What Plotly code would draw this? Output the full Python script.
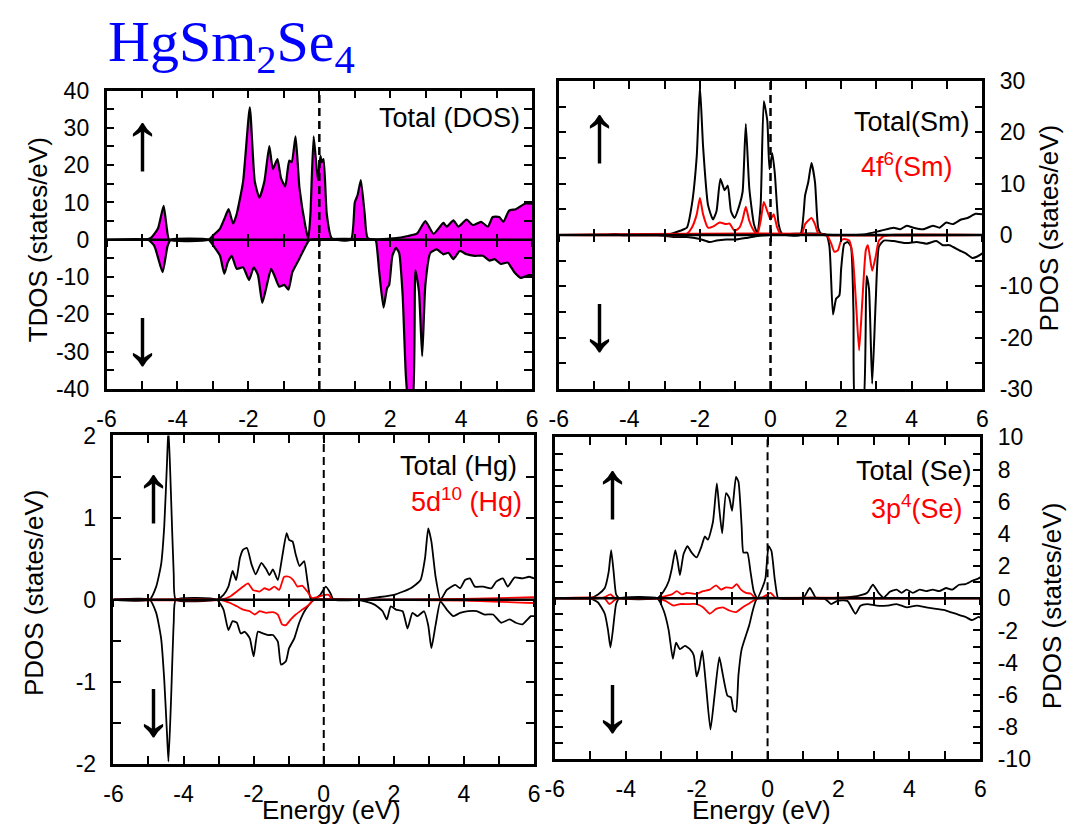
import plotly.graph_objects as go

W, H = 1075, 839

# ---------------- data (energy in eV, DOS in states/eV) ----------------
tdos_up_E = [-6, -4.95, -4.75, -4.55, -4.39, -4.3, -4.23, -3.12, -2.98, -2.8, -2.66, -2.56, -2.43, -2.33, -2.15,
             -1.96, -1.82, -1.69, -1.55, -1.41, -1.31, -1.18, -1.08, -0.96, -0.85, -0.78, -0.67, -0.56, -0.39,
             -0.31, -0.25, -0.16, -0.04, 0.03, 0.07, 0.12, 0.21, 0.35, 0.89, 1.0, 1.08, 1.17, 1.28, 1.37, 2.11,
             2.5, 2.76, 2.99, 3.22, 3.5, 3.59, 3.78, 3.92, 4.15, 4.33, 4.56, 4.75, 4.89, 5.07, 5.19, 5.35, 5.54,
             5.81, 6]
tdos_up = [0, 0, 0.5, 3, 9.1, 3, 0, 0, 1.3, 3, 6, 8.2, 4.3, 6.9, 15.6,
           35.5, 15.6, 11.3, 15.6, 25.1, 19, 21.6, 16.5, 14.3, 21.2, 20.8, 27.7, 13.9, 3.5,
           0.2, 6.9, 27.7, 16, 22.5, 20.8, 21.6, 6.9, 0.4, 0, 10, 12, 16, 6.9, 0.4, 0.4,
           1, 1.7, 5, 1.6, 4.5, 3.5, 5.2, 3.5, 5.4, 3.9, 4.8, 3.5, 6.1, 6.1, 4.8, 7.8, 8.2,
           9.7, 9.7]
tdos_dn_E = [-6, -4.83, -4.65, -4.42, -4.28, -4.19, -3.12, -2.98, -2.8, -2.68, -2.58, -2.47, -2.33, -2.15, -1.98,
             -1.85, -1.73, -1.61, -1.5, -1.36, -1.27, -1.13, -0.99, -0.87, -0.76, -0.57, -0.31, -0.25, 1.56,
             1.6, 1.69, 1.81, 1.91, 1.97, 2.06, 2.16, 2.25, 2.35, 2.44, 2.53, 2.62, 2.71, 2.81, 2.9, 2.99,
             3.13, 3.31, 3.5, 3.64, 3.78, 3.96, 4.15, 4.38, 4.61, 4.8, 4.94, 5.12, 5.31, 5.5, 5.68, 5.91, 6]
tdos_dn = [0, 0, -1.7, -8.7, -1.7, 0, 0, -1.7, -4.3, -9.1, -6, -4.3, -7.8, -7.4, -10.8,
           -7.4, -9.5, -16.9, -13, -7.8, -9.5, -12.6, -12.1, -13.4, -8.7, -5.2, -0.4, 0, 0,
           -0.4, -8.7, -18.2, -13, -12.1, -4.3, -2.2, -3.5, -15, -36.4, -45, -45, -8.2, -13.9, -31.2, -12.1,
           -3.5, -2.6, -3.9, -3.5, -5.2, -3, -3.9, -4.3, -4.3, -5.6, -5.2, -6.5, -6.1, -8.7, -10.2, -9.5, -9.5]

sm_up_E = [-6, -4.6, -4.42, -4.25, -2.93, -2.56, -2.37, -2.23, -2.09, -2.0, -1.91, -1.77, -1.63, -1.53, -1.42,
           -1.3, -1.21, -1.12, -1.02, -0.88, -0.79, -0.7, -0.6, -0.47, -0.37, -0.28, -0.19, -0.09, -0.03, 0.05,
           0.12, 0.23, 0.33, 0.84, 0.98, 1.07, 1.16, 1.26, 1.35, 1.44, 2.65, 3.12, 3.49, 3.67, 3.86, 4.05,
           4.33, 4.6, 4.79, 4.98, 5.16, 5.4, 5.58, 5.81, 6]
sm_up = [0, 0, 0.2, 0, 0, 0.8, 1.4, 5.8, 15.3, 29, 17.2, 5.8, 3, 4.6, 10.9,
         8.7, 9.6, 4.6, 3.3, 5.8, 8.4, 21.6, 9, 2.1, 0.3, 5.8, 26, 22.2, 12.8, 15.9,
         12.1, 2.1, 0.2, 0, 7.7, 10.3, 14, 10.3, 1.4, 0.2, 0.1, 0.8, 1.4, 1.1, 1.8, 1.4,
         1.1, 1.8, 1.4, 2.4, 2.1, 3, 3.3, 4.1, 4]
sm_dn_E = [-6, -3.2, -2.93, -2.74, -2.37, -2.0, -1.72, -1.53, -1.26, -0.98, -0.7, -0.42, 0, 1.58, 1.67, 1.77,
           1.86, 1.95, 2.0, 2.09, 2.19, 2.28, 2.35, 2.42, 2.6, 2.72, 2.79, 2.88, 2.98, 3.07, 3.21, 3.49,
           3.86, 4.14, 4.42, 4.7, 4.88, 5.07, 5.35, 5.53, 5.72, 5.86, 6]
sm_dn = [0, 0, -0.25, -0.4, -0.4, -0.8, -1.4, -1.1, -0.9, -0.9, -0.6, -0.25, 0, 0, -2.3, -15.5,
         -12.4, -11.8, -6.7, -1.7, -1.4, -2.3, -15, -35, -35, -8, -10.5, -29, -13, -2.3, -1.1, -1.2,
         -1.6, -1.4, -1.7, -1.2, -2, -2, -3, -3.6, -4.5, -4.2, -3.6]
sm4f_up_E = [-6, -2.5, -2.37, -2.23, -2.09, -2.0, -1.91, -1.77, -1.63, -1.44, -1.26, -1.16, -1.02, -0.88, -0.79,
             -0.7, -0.6, -0.47, -0.37, -0.28, -0.19, -0.09, 0, 0.09, 0.19, 0.28, 0.88, 0.98, 1.16, 1.26, 1.35,
             1.5, 6]
sm4f_up = [0, 0, 0.2, 1.4, 4, 7.2, 4, 1.4, 1.6, 2.4, 2.1, 2.2, 0.8, 1.4, 3,
           5.5, 2.7, 0.8, 0.2, 2.7, 6.4, 4.6, 3, 4, 1.4, 0.2, 0.2, 2.1, 3.3, 2.1, 0.3,
           0, 0]
sm4f_dn_E = [-6, 1.55, 1.63, 1.72, 1.81, 1.91, 2.0, 2.09, 2.23, 2.33, 2.42, 2.51, 2.6, 2.7, 2.76, 2.88, 2.98,
             3.07, 3.21, 3.4, 6]
sm4f_dn = [0, 0, -0.4, -1.7, -3.3, -3, -1.1, -0.8, -1.1, -4.2, -13, -22.5, -13, -3, -2, -7, -4.2,
           -1.1, -0.25, 0, 0]

hg_up_E = [-6, -4.97, -4.78, -4.64, -4.55, -4.47, -4.43, -4.36, -4.28, -4.22, -3.05, -2.86, -2.72, -2.6, -2.5,
           -2.39, -2.3, -2.19, -2.06, -1.94, -1.78, -1.64, -1.55, -1.45, -1.31, -1.19, -1.06, -0.99, -0.89,
           -0.8, -0.69, -0.56, -0.47, -0.38, -0.3, -0.1, 0.06, 0.19, 0.28, 0.98, 1.54, 2.01, 2.48, 2.76, 2.89,
           2.98, 3.07, 3.19, 3.33, 3.51, 3.75, 3.89, 4.03, 4.17, 4.31, 4.55, 4.78, 4.92, 5.11, 5.25, 5.44,
           5.67, 5.86, 6]
hg_up = [0, 0, 0.16, 0.43, 0.9, 1.69, 2.1, 1.3, 0.31, 0, 0, 0.06, 0.16, 0.35, 0.24,
         0.51, 0.61, 0.63, 0.43, 0.31, 0.45, 0.37, 0.3, 0.37, 0.24, 0.51, 0.81, 0.73, 0.71,
         0.55, 0.41, 0.47, 0.24, 0.02, 0, 0.06, 0.16, 0.08, 0, 0, 0.03, 0.06, 0.14, 0.24, 0.51,
         0.87, 0.71, 0.28, 0, 0.12, 0.18, 0.14, 0.24, 0.26, 0.16, 0.16, 0.14, 0.22, 0.26, 0.16, 0.27,
         0.26, 0.28, 0.26]
hg_dn_E = [-6, -4.97, -4.78, -4.64, -4.55, -4.47, -4.43, -4.36, -4.28, -4.22, -3.05, -2.86, -2.72, -2.6, -2.48,
           -2.37, -2.25, -2.11, -2.0, -1.88, -1.74, -1.59, -1.45, -1.31, -1.22, -1.08, -0.99, -0.84, -0.7,
           -0.52, -0.33, -0.25, 0.98, 1.45, 1.68, 1.8, 1.91, 2.06, 2.25, 2.39, 2.53, 2.67, 2.86, 2.98, 3.07,
           3.19, 3.33, 3.51, 3.7, 3.89, 4.12, 4.36, 4.59, 4.83, 5.06, 5.3, 5.48, 5.67, 5.91, 6]
hg_dn = [0, 0, -0.16, -0.47, -0.98, -1.65, -1.97, -1.26, -0.28, 0, 0, -0.12, -0.37, -0.26, -0.28,
         -0.41, -0.39, -0.47, -0.69, -0.39, -0.41, -0.43, -0.43, -0.51, -0.79, -0.75, -0.59, -0.47, -0.28,
         -0.12, -0.02, 0, 0, -0.06, -0.14, -0.24, -0.08, -0.12, -0.14, -0.35, -0.16, -0.2, -0.14, -0.31, -0.59,
         -0.31, -0.02, -0.12, -0.2, -0.16, -0.14, -0.14, -0.18, -0.18, -0.28, -0.24, -0.28, -0.3, -0.2, -0.2]
hg5d_up_E = [-6, -2.95, -2.67, -2.48, -2.3, -2.16, -2.02, -1.83, -1.69, -1.55, -1.41, -1.27, -1.13, -0.99, -0.87,
             -0.75, -0.61, -0.47, -0.33, -0.2, -0.05, 0.14, 0.25, 1.0, 4.0, 6]
hg5d_up = [0, 0, 0.04, 0.1, 0.16, 0.2, 0.12, 0.1, 0.14, 0.12, 0.16, 0.12, 0.28, 0.28, 0.24,
           0.16, 0.17, 0.1, 0.02, 0.03, 0.05, 0.06, 0, 0, 0.01, 0.03]
hg5d_dn_E = [-6, -2.95, -2.67, -2.48, -2.3, -2.11, -1.97, -1.83, -1.64, -1.45, -1.31, -1.19, -1.08, -0.94, -0.8,
             -0.61, -0.42, -0.3, 1.0, 4.0, 6]
hg5d_dn = [0, 0, -0.04, -0.08, -0.12, -0.14, -0.18, -0.14, -0.16, -0.15, -0.18, -0.3, -0.31, -0.24, -0.18,
           -0.12, -0.06, 0, 0, -0.01, -0.04]

se_up_E = [-6, -5.01, -4.78, -4.59, -4.48, -4.41, -4.34, -4.27, -4.18, -3.11, -2.93, -2.79, -2.7, -2.6, -2.53,
           -2.47, -2.37, -2.26, -2.14, -2.0, -1.86, -1.77, -1.68, -1.54, -1.43, -1.36, -1.28, -1.17, -1.08,
           -1.0, -0.89, -0.82, -0.73, -0.68, -0.57, -0.48, -0.39, -0.29, -0.15, -0.06, 0.03, 0.11, 0.2, 0.29,
           0.35, 1.0, 1.19, 1.28, 1.37, 1.97, 2.53, 2.81, 2.97, 3.13, 3.27, 3.45, 3.64, 3.78, 3.92, 4.1,
           4.29, 4.47, 4.66, 4.84, 5.03, 5.21, 5.4, 5.58, 5.77, 5.95, 6]
se_up = [0, 0, 0.24, 0.64, 1.64, 3.0, 1.64, 0.24, 0, 0, 0.44, 1.04, 1.84, 3.0, 2.24,
         1.44, 2.74, 3.24, 2.84, 2.54, 3.24, 3.84, 3.64, 4.74, 7.14, 5.54, 4.04, 6.54, 6.24,
         5.44, 7.54, 7.24, 4.44, 2.84, 2.84, 1.64, 0.44, 0, 0.64, 1.24, 3.24, 2.94, 1.24, 0.04,
         0, 0, 0.64, 0.34, 0, 0.04, 0.14, 0.34, 0.84, 0.34, 0.04, 0.4, 0.54, 0.34, 0.54, 0.34,
         0.54, 0.44, 0.54, 0.44, 0.64, 0.54, 0.84, 0.88, 1.08, 1.24, 1.3]
se_dn_E = [-6, -5.01, -4.78, -4.59, -4.5, -4.43, -4.36, -4.27, -4.18, -3.11, -2.93, -2.79, -2.67, -2.58, -2.47,
           -2.33, -2.19, -2.08, -2.0, -1.93, -1.84, -1.73, -1.61, -1.49, -1.36, -1.26, -1.13, -1.03, -0.96,
           -0.89, -0.82, -0.73, -0.52, -0.29, 0.4, 1.6, 1.79, 1.97, 2.25, 2.48, 2.62, 2.81, 3.08, 3.36, 3.64,
           3.92, 4.2, 4.47, 4.75, 5.03, 5.3, 5.58, 5.77, 5.95, 6]
se_dn = [0, 0, -0.26, -0.96, -1.96, -3.06, -1.96, -0.36, 0, 0, -0.76, -1.96, -3.76, -2.76, -3.16,
         -2.96, -3.16, -3.56, -4.86, -4.36, -3.26, -5.56, -8.16, -5.96, -3.66, -4.76, -6.06, -6.16, -6.96,
         -7.06, -4.76, -3.16, -1.7, 0, 0, 0, -0.36, -0.16, -0.16, -0.96, -0.46, -0.36, -0.46, -0.46, -0.36,
         -0.56, -0.46, -0.56, -0.66, -0.76, -0.96, -1.16, -1.36, -1.16, -1.2]
se3p_up_E = [-6, -4.78, -4.59, -4.43, -4.32, -4.2, -3.11, -2.88, -2.7, -2.56, -2.42, -2.28, -2.0, -1.82, -1.63,
             -1.45, -1.31, -1.17, -1.0, -0.87, -0.75, -0.61, -0.47, -0.33, -0.15, 0.08, 0.22, 0.3, 6]
se3p_up = [0, 0, 0.08, 0.24, 0.04, 0, 0, 0.14, 0.24, 0.44, 0.24, 0.34, 0.28, 0.44, 0.54,
           0.8, 0.54, 0.68, 0.64, 0.88, 0.54, 0.34, 0.28, 0, 0.04, 0.34, 0.04, 0, 0]
se3p_dn_E = [-6, -4.6, -4.46, -4.32, -4.2, -3.11, -2.88, -2.65, -2.47, -2.28, -2.0, -1.82, -1.63, -1.45, -1.26,
             -1.08, -0.89, -0.7, -0.52, -0.33, -0.25, 6]
se3p_dn = [0, 0, -0.36, -0.12, 0, 0, -0.16, -0.46, -0.36, -0.36, -0.36, -0.56, -0.96, -0.66, -0.56,
           -0.76, -0.86, -0.56, -0.32, -0.06, 0, 0]

# tick values / labels (plain hyphen-minus, as in the original)
x_ticks = [-6, -4, -2, 0, 2, 4, 6]
x_ticklabels = ["-6", "-4", "-2", "0", "2", "4", "6"]
y_ticks = {1: [-40, -30, -20, -10, 0, 10, 20, 30, 40],
           2: [-30, -20, -10, 0, 10, 20, 30],
           3: [-2, -1, 0, 1, 2],
           4: [-10, -8, -6, -4, -2, 0, 2, 4, 6, 8, 10]}
y_ticklabels = {k: [str(v) for v in vals] for k, vals in y_ticks.items()}
x_range = [-6, 6]
y_ranges = {1: [-40, 40], 2: [-30, 30], 3: [-2, 2], 4: [-10, 10]}
y_minor = {1: 5, 2: 5, 3: 0.5, 4: 1}

# ---------------- layout helpers ----------------
def dx(a, b):
    return [a / W, b / W]

def dy(top, bottom):
    return [1 - bottom / H, 1 - top / H]

px = lambda x: x / W
py = lambda y: 1 - y / H

boxes = {1: (98, 530, 80, 388), 2: (557, 987, 70, 388), 3: (105, 532, 436, 775), 4: (553, 985, 438, 770)}

TICKFONT = dict(family="Liberation Sans, Arial, sans-serif", size=23, color="black")
BLACK = "black"
RED = "#ff0000"
MAGENTA = "#ff00ff"

fig = go.Figure()

def add(panel, xs, ys, color, width=2.0, fill=False):
    sfx = "" if panel == 1 else str(panel)
    kw = dict(x=xs, y=ys, mode="lines", line=dict(color=color, width=width, shape="spline", smoothing=0.5),
              xaxis="x" + sfx, yaxis="y" + sfx, showlegend=False, hoverinfo="skip")
    if fill:
        kw.update(fill="tozeroy", fillcolor=MAGENTA)
    fig.add_trace(go.Scatter(**kw))

add(1, tdos_up_E, tdos_up, BLACK, 2.2, fill=True)
add(1, tdos_dn_E, tdos_dn, BLACK, 2.2, fill=True)
add(2, sm_up_E, sm_up, BLACK, 2.0)
add(2, sm_dn_E, sm_dn, BLACK, 2.0)
add(2, sm4f_up_E, sm4f_up, RED, 2.0)
add(2, sm4f_dn_E, sm4f_dn, RED, 2.0)
add(3, hg_up_E, hg_up, BLACK, 1.8)
add(3, hg_dn_E, hg_dn, BLACK, 1.8)
add(3, hg5d_up_E, hg5d_up, RED, 1.8)
add(3, hg5d_dn_E, hg5d_dn, RED, 1.8)
add(4, se_up_E, se_up, BLACK, 1.8)
add(4, se_dn_E, se_dn, BLACK, 1.8)
add(4, se3p_up_E, se3p_up, RED, 1.8)
add(4, se3p_dn_E, se3p_dn, RED, 1.8)

layout = dict(width=W, height=H, margin=dict(l=0, r=0, t=0, b=0),
              paper_bgcolor="white", plot_bgcolor="white", showlegend=False)

shapes = []
extra = 5
for p in (1, 2, 3, 4):
    x0, x1, top, bottom = boxes[p]
    sfx = "" if p == 1 else str(p)
    xd, yd = dx(x0, x1), dy(top, bottom)
    layout["xaxis" + sfx] = dict(
        domain=xd, anchor="y" + sfx, range=x_range, tickmode="array",
        tickvals=x_ticks, ticktext=x_ticklabels,
        ticks="inside", ticklen=8, tickwidth=2, tickcolor=BLACK,
        minor=dict(tickmode="linear", tick0=-6, dtick=1, ticks="inside", ticklen=8, tickwidth=2,
                   tickcolor=BLACK),
        showline=True, linecolor=BLACK, linewidth=2.5, mirror="allticks",
        showgrid=False, zeroline=False, tickfont=TICKFONT, ticklabelstandoff=8,
    )
    layout["yaxis" + sfx] = dict(
        domain=yd, anchor="x" + sfx, range=y_ranges[p], tickmode="array",
        tickvals=y_ticks[p], ticktext=y_ticklabels[p],
        ticks="inside", ticklen=8, tickwidth=2, tickcolor=BLACK,
        minor=dict(tickmode="linear", tick0=y_ranges[p][0], dtick=y_minor[p], ticks="inside", ticklen=8,
                   tickwidth=2, tickcolor=BLACK),
        showline=True, linecolor=BLACK, linewidth=2.5, mirror="allticks",
        side="left" if p in (1, 3) else "right",
        showgrid=False, zeroline=False, tickfont=TICKFONT, ticklabelstandoff=10,
    )
    # ticks crossing the zero line (two overlay axes, one each direction)
    r0, r1 = y_ranges[p]
    zpos = yd[0] + (0 - r0) / (r1 - r0) * (yd[1] - yd[0])
    for direction in ("inside", "outside"):
        name = "x%d" % extra
        layout["xaxis%d" % extra] = dict(
            overlaying="x" + sfx, anchor="free", position=zpos, range=x_range, tickmode="linear",
            dtick=1, tick0=-6, ticks=direction, ticklen=6, tickwidth=2, tickcolor=BLACK,
            showticklabels=False, showline=False, showgrid=False, zeroline=False,
        )
        fig.add_trace(go.Scatter(x=[], y=[], xaxis=name, yaxis="y" + sfx, mode="lines",
                                 showlegend=False, hoverinfo="skip"))
        extra += 1
    # zero line and Fermi level
    shapes.append(dict(type="line", xref="x" + sfx + " domain", x0=0, x1=1, yref="y" + sfx, y0=0, y1=0,
                       line=dict(color=BLACK, width=2.5), layer="above"))
    shapes.append(dict(type="line", xref="x" + sfx, x0=0, x1=0, yref="y" + sfx + " domain", y0=0, y1=1,
                       line=dict(color=BLACK, width=2.5 if p <= 2 else 2.0, dash="8px,5px"), layer="above"))

layout["shapes"] = shapes

LAB = dict(family="Liberation Sans, Arial, sans-serif", size=26, color="black")
ann = []
def text(x, y, s, font, xanchor="center", yanchor="middle", angle=0):
    ann.append(dict(x=px(x), y=py(y), xref="paper", yref="paper", text=s, showarrow=False,
                    xanchor=xanchor, yanchor=yanchor, textangle=angle, font=font))

# title
text(97, 34, "HgSm<sub>2</sub>Se<sub>4</sub>",
     dict(family="Liberation Serif, Times New Roman, serif", size=58, color="#0000ff"), xanchor="left")
# axis titles
text(28, 234, "TDOS (states/eV)", LAB, angle=-90)
text(1055, 222, "PDOS (states/eV)", LAB, angle=-90)
text(25, 598, "PDOS (states/eV)", LAB, angle=-90)
text(1058, 612, "PDOS (states/eV)", LAB, angle=-90)
text(326, 822, "Energy (eV)", LAB)
text(763, 822, "Energy (eV)", LAB)
# panel labels
LBL = dict(family="Liberation Sans, Arial, sans-serif", size=27, color="black")
LBLR = dict(family="Liberation Sans, Arial, sans-serif", size=27, color=RED)
text(520, 108, "Total (DOS)", LBL, xanchor="right")
text(977, 112, "Total(Sm)", LBL, xanchor="right")
text(959, 157, "4f<sup>6</sup>(Sm)", LBLR, xanchor="right")
text(517, 468, "Total (Hg)", LBL, xanchor="right")
text(522, 503, "5d<sup>10</sup> (Hg)", LBLR, xanchor="right")
text(979, 473, "Total (Se)", LBL, xanchor="right")
text(969, 510, "3p<sup>4</sup>(Se)", LBLR, xanchor="right")
# spin arrows
ARR = dict(family="Liberation Sans, Arial, sans-serif", size=82, color="black")
for (x, yu, yd_) in ((134, 132, 333), (598, 123, 318), (146, 495, 716), (612, 491, 712)):
    text(x, yu, "\u2191", ARR)
    text(x, yd_, "\u2193", ARR)

layout["annotations"] = ann
fig.update_layout(**layout)
fig.write_html("out.html")
